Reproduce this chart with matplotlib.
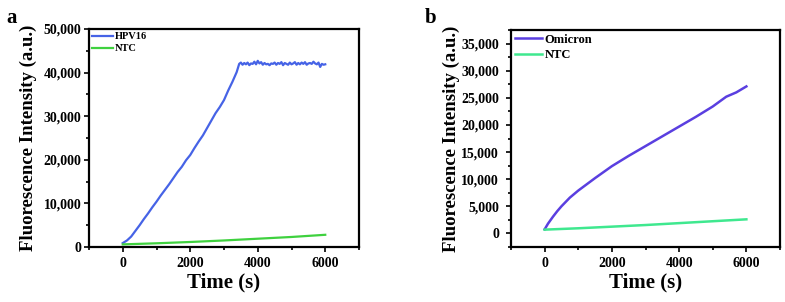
import matplotlib.pyplot as plt
from matplotlib.ticker import MultipleLocator, FuncFormatter

plt.rcParams['font.family'] = ['Liberation Serif', 'DejaVu Serif']
plt.rcParams['font.weight'] = 'bold'

# panel a: HPV16 rise, read every 125 s
t_rise = [0, 125, 250, 375, 500, 625, 750, 875, 1000, 1125, 1250, 1375, 1500,
          1625, 1750, 1875, 2000, 2125, 2250, 2375, 2500, 2625, 2750, 2875,
          3000, 3125, 3250, 3375]
hpv16_rise = [900, 1500, 2400, 3700, 5000, 6400, 7700, 9100, 10400, 11800,
              13100, 14400, 15800, 17200, 18400, 19900, 21100, 22700, 24200,
              25600, 27300, 29000, 30700, 32100, 33700, 35900, 37900, 40100]
# plateau, read every 50 s
t_plat = [3450, 3500, 3550, 3600, 3650, 3700, 3750, 3800, 3850, 3900, 3950,
          4000, 4050, 4100, 4150, 4200, 4250, 4300, 4350, 4400, 4450, 4500,
          4550, 4600, 4650, 4700, 4750, 4800, 4850, 4900, 4950, 5000, 5050,
          5100, 5150, 5200, 5250, 5300, 5350, 5400, 5450, 5500, 5550, 5600,
          5650, 5700, 5750, 5800, 5850, 5900, 5950, 6000]
hpv16_plat = [42000, 42300, 41800, 42200, 41900, 42300, 41700, 42100, 42000,
              42500, 41900, 42700, 42100, 42400, 41800, 42200, 41900, 42000,
              41700, 42100, 42000, 42300, 41800, 42200, 42000, 42400, 41700,
              42200, 42000, 41800, 42300, 41900, 42100, 42400, 41800, 42200,
              41900, 42300, 42000, 42400, 41800, 42100, 42200, 42000, 42500,
              42100, 41900, 42300, 41300, 42000, 41800, 41900]
t_ntc = [0, 1000, 2000, 3000, 4000, 5000, 6000]
ntc_a = [600, 850, 1150, 1500, 1900, 2300, 2800]

# panel b
t_b = [0, 100, 250, 375, 500, 625, 750, 1000, 1500, 2000, 2500, 3000, 3500,
       4000, 4500, 5000, 5200, 5400, 5700, 6000]
omicron = [750, 1800, 3100, 4100, 5000, 5800, 6600, 7900, 10200, 12400, 14300,
           16100, 17900, 19700, 21500, 23400, 24300, 25200, 26000, 27100]
ntc_b = [700, 950, 1250, 1550, 1900, 2250, 2600]

fmt = FuncFormatter(lambda v, p: f"{int(v):,}")

fig = plt.figure(figsize=(7.85, 3.02), dpi=100)
ax1 = fig.add_axes([89 / 785, 55 / 302, 270 / 785, 218 / 302])
ax2 = fig.add_axes([511 / 785, 55 / 302, 269 / 785, 217 / 302])

ax1.plot(t_rise + t_plat, hpv16_rise + hpv16_plat, color='#4663e6', lw=1.6, label='HPV16')
ax1.plot(t_ntc, ntc_a, color='#3fd13f', lw=1.6, label='NTC')
ax1.set_ylim(0, 50000)
ax1.yaxis.set_major_locator(MultipleLocator(10000))
ax1.yaxis.set_minor_locator(MultipleLocator(5000))

ax2.plot(t_b, omicron, color='#5a3fe0', lw=1.8, label='Omicron')
ax2.plot(t_ntc, ntc_b, color='#3fe88f', lw=1.8, label='NTC')
ax2.set_ylim(-2500, 37500)
ax2.yaxis.set_major_locator(MultipleLocator(5000))
ax2.yaxis.set_minor_locator(MultipleLocator(2500))

for ax, letter, lx, lfs, hl, pad, lpad in [(ax1, 'a', 0.008, 7.5, 2.0, 2, 5),
                                           (ax2, 'b', 0.541, 9, 2.2, 5, 1)]:
    ax.set_xlim(-1000, 7000)
    ax.xaxis.set_major_locator(MultipleLocator(2000))
    ax.xaxis.set_minor_locator(MultipleLocator(1000))
    ax.yaxis.set_major_formatter(fmt)
    ax.tick_params(which='both', direction='out', width=1.2, labelsize=10)
    ax.tick_params(which='major', length=3.5)
    ax.tick_params(which='minor', length=2)
    ax.tick_params(axis='y', which='major', pad=pad)
    for s in ax.spines.values():
        s.set_linewidth(1.6)
    ax.set_xlabel('Time (s)', fontsize=15, fontweight='bold', labelpad=2)
    ax.set_ylabel('Fluorescence Intensity (a.u.)', fontsize=13.5, fontweight='bold', labelpad=lpad)
    ax.legend(loc='upper left', frameon=False, fontsize=lfs, handlelength=hl,
              handletextpad=0.2, labelspacing=0.25, borderaxespad=0.2,
              borderpad=0.1)
    fig.text(lx, 0.975, letter, fontsize=15, fontweight='bold', va='top')

fig.savefig('out.png', dpi=100)
